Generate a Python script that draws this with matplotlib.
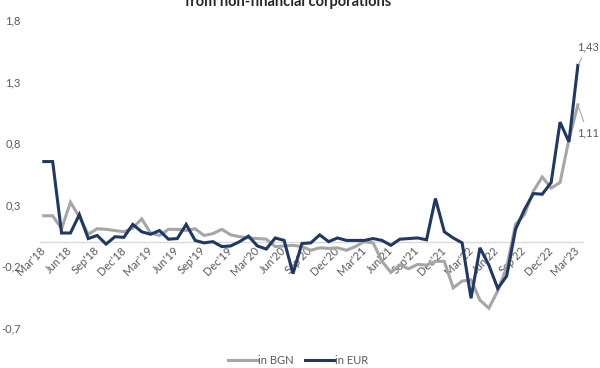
import matplotlib
matplotlib.use("Agg")
import matplotlib.pyplot as plt
from matplotlib.ticker import FuncFormatter, FixedLocator
import pandas as pd

plt.rcParams['font.family'] = ['Lato', 'DejaVu Sans']

# monthly, Mar'18 .. Mar'23
months = pd.date_range("2018-03-01", periods=61, freq="MS")
month_labels = [m.strftime("%b'%y") for m in months]

bgn = [0.21, 0.21, 0.105, 0.32, 0.20, 0.06, 0.105, 0.10, 0.09, 0.08,
       0.11, 0.185, 0.07, 0.05, 0.10, 0.10, 0.09, 0.105, 0.05, 0.065,
       0.10, 0.055, 0.04, 0.03, 0.025, 0.02, -0.04, -0.035, -0.03, -0.04,
       -0.07, -0.05, -0.055, -0.05, -0.07, -0.04, 0.0, -0.01, -0.16, -0.25,
       -0.19, -0.22, -0.185, -0.19, -0.16, -0.16, -0.375, -0.32, -0.31, -0.475,
       -0.54, -0.40, -0.21, 0.14, 0.22, 0.41, 0.525, 0.435, 0.48, 0.83,
       1.11]
eur = [0.65, 0.65, 0.07, 0.07, 0.22, 0.025, 0.05, -0.02, 0.04, 0.035,
       0.14, 0.08, 0.06, 0.09, 0.02, 0.025, 0.14, 0.01, -0.01, 0.0,
       -0.04, -0.035, 0.0, 0.045, -0.035, -0.06, 0.03, 0.01, -0.26, -0.015,
       -0.01, 0.055, 0.0, 0.03, 0.01, 0.01, 0.01, 0.025, 0.01, -0.03,
       0.02, 0.025, 0.03, 0.015, 0.35, 0.08, 0.03, -0.01, -0.46, -0.05,
       -0.19, -0.38, -0.28, 0.10, 0.26, 0.39, 0.385, 0.48, 0.97, 0.81,
       1.43]
y_ticks = [-0.7, -0.2, 0.3, 0.8, 1.3, 1.8]

c_bgn = "#a6a6a6"
c_eur = "#1f3864"
c_txt = "#595959"

fig = plt.figure(figsize=(6, 3.68), dpi=100)
ax = fig.add_axes([0.067, 0.109, 0.905, 0.837])

x = list(range(len(months)))
ax.plot(x, bgn, color=c_bgn, lw=2.2, label="in BGN", solid_joinstyle="miter")
ax.plot(x, eur, color=c_eur, lw=2.2, label="in EUR", solid_joinstyle="miter")

ax.set_xlim(-0.4, 60.6)
ax.set_ylim(-0.7, 1.8)

# category axis crosses at zero
for s in ("top", "right", "left"):
    ax.spines[s].set_visible(False)
ax.spines["bottom"].set_position(("data", 0))
ax.spines["bottom"].set_color("#d9d9d9")
ax.spines["bottom"].set_linewidth(1.0)
ax.spines["bottom"].set_zorder(0)

ax.yaxis.set_major_locator(FixedLocator(y_ticks))
ax.yaxis.set_major_formatter(FuncFormatter(lambda v, p: f"{v:.1f}".replace(".", ",")))
ax.tick_params(axis="y", length=0, pad=14, labelsize=8, labelcolor=c_txt)

ax.set_xticks(x[::3])
ax.set_xticklabels(month_labels[::3], rotation=45, ha="right", va="center",
                   rotation_mode="anchor")
ax.tick_params(axis="x", length=0, pad=5, labelsize=8, labelcolor=c_txt)

# last-value labels with leader lines
ax.annotate(f"{eur[-1]:.2f}".replace(".", ","), xy=(x[-1], eur[-1]),
            xytext=(7, 13), textcoords="offset points", ha="center", va="center",
            fontsize=8, color=c_txt, annotation_clip=False,
            arrowprops=dict(arrowstyle="-", color=c_bgn, lw=0.8, shrinkA=2, shrinkB=1))
ax.annotate(f"{bgn[-1]:.2f}".replace(".", ","), xy=(x[-1], bgn[-1]),
            xytext=(7, -20), textcoords="offset points", ha="center", va="center",
            fontsize=8, color=c_txt, annotation_clip=False,
            arrowprops=dict(arrowstyle="-", color=c_bgn, lw=0.8, shrinkA=2, shrinkB=1))

fig.text(0.48, 0.984, "from non-financial corporations", ha="center",
         va="baseline", fontsize=10.5, fontweight="bold", color="#262626")

fig.legend(loc="center", bbox_to_anchor=(0.497, 0.02), ncol=2, frameon=False,
           fontsize=8, labelcolor=c_txt, handlelength=2.6, handletextpad=0.1,
           columnspacing=1.0)

fig.savefig("out.png", dpi=100)
